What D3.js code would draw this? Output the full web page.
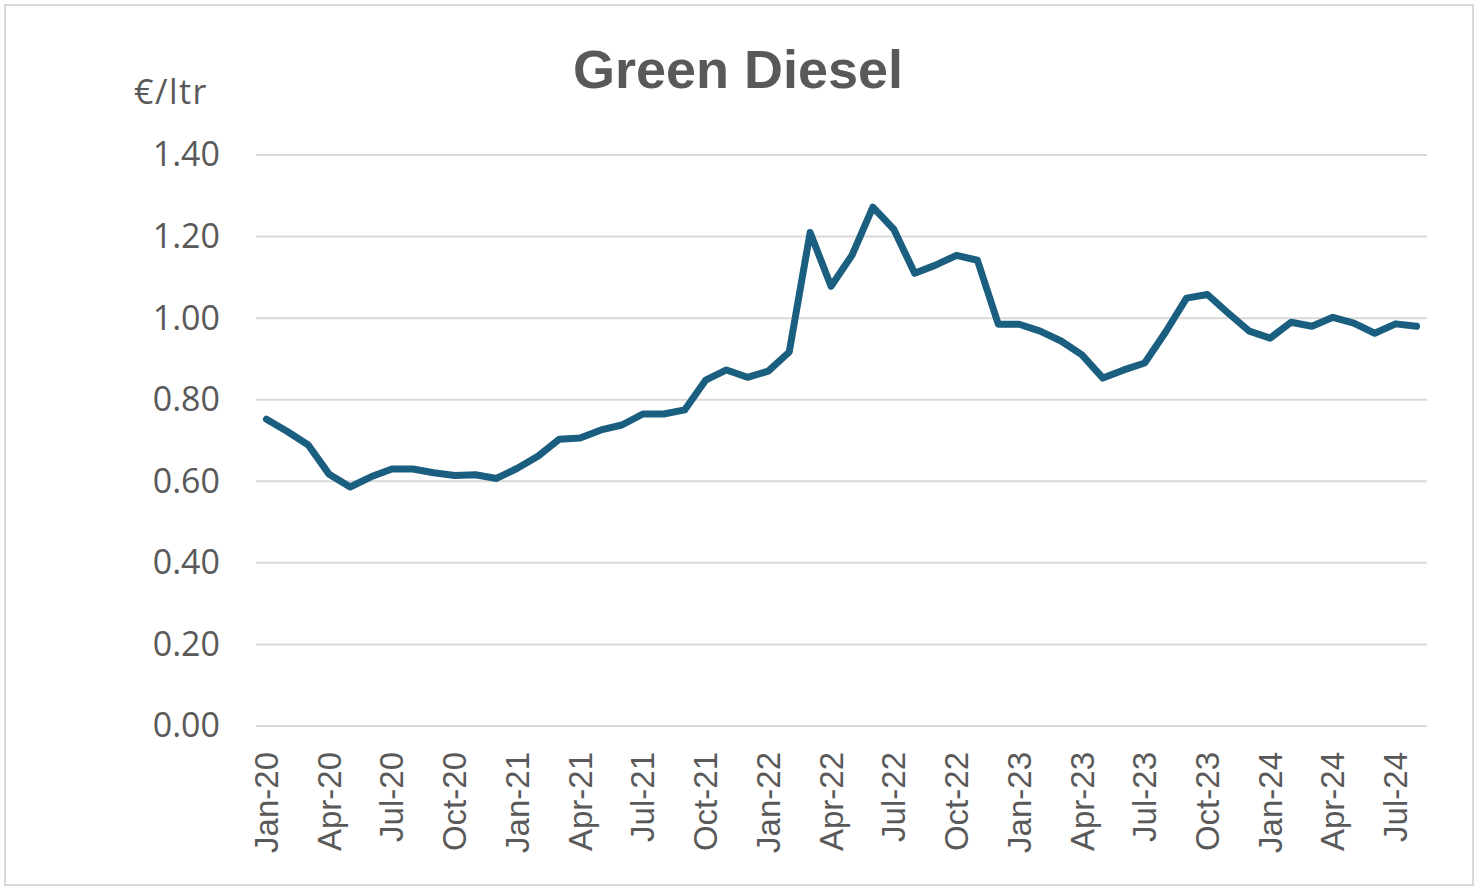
<!DOCTYPE html>
<html><head><meta charset="utf-8">
<script src="https://cdn.jsdelivr.net/npm/d3@7"></script>
<style>
html,body{margin:0;padding:0;background:#fff;}
svg{display:block;}
</style></head>
<body>
<svg id="chart" width="1480" height="893"></svg>
<script>
const title = "Green Diesel";
const unitLabel = "€/ltr";
const months = ["Jan-20","Feb-20","Mar-20","Apr-20","May-20","Jun-20","Jul-20","Aug-20","Sep-20","Oct-20","Nov-20","Dec-20",
"Jan-21","Feb-21","Mar-21","Apr-21","May-21","Jun-21","Jul-21","Aug-21","Sep-21","Oct-21","Nov-21","Dec-21",
"Jan-22","Feb-22","Mar-22","Apr-22","May-22","Jun-22","Jul-22","Aug-22","Sep-22","Oct-22","Nov-22","Dec-22",
"Jan-23","Feb-23","Mar-23","Apr-23","May-23","Jun-23","Jul-23","Aug-23","Sep-23","Oct-23","Nov-23","Dec-23",
"Jan-24","Feb-24","Mar-24","Apr-24","May-24","Jun-24","Jul-24","Aug-24"];
const prices = [0.752,0.722,0.689,0.617,0.586,0.611,0.630,0.630,0.621,0.614,0.616,0.607,
0.632,0.662,0.703,0.706,0.726,0.738,0.765,0.765,0.775,0.848,0.873,0.855,
0.870,0.917,1.210,1.078,1.154,1.272,1.218,1.110,1.130,1.154,1.142,0.985,
0.985,0.968,0.944,0.910,0.853,0.873,0.890,0.966,1.049,1.058,1.012,0.968,
0.951,0.990,0.980,1.002,0.988,0.963,0.986,0.980];
const yTicks = [0,0.2,0.4,0.6,0.8,1.0,1.2,1.4];
const xTickLabels = months.filter((m,i)=>i%3===0);

const svg = d3.select("#chart");
const grey = "#595959";

// chart border
svg.append("rect").attr("x",5).attr("y",5).attr("width",1468).attr("height",880)
  .attr("fill","#fff").attr("stroke","#d9d9d9").attr("stroke-width",2);

const x = d3.scaleBand().domain(months).range([256,1427]);
const y = d3.scaleLinear().domain([0,1.4]).range([726,155]);

// gridlines
svg.append("g").selectAll("line").data(yTicks).join("line")
  .attr("x1",256).attr("x2",1427)
  .attr("y1",d=>y(d)).attr("y2",d=>y(d))
  .attr("stroke","#d9d9d9").attr("stroke-width",2);

// y axis labels
const yAxis = d3.axisLeft(y).tickValues(yTicks).tickFormat(d3.format(".2f")).tickSize(0).tickPadding(0);
const gy = svg.append("g").attr("transform","translate(220,0)").call(yAxis);
gy.select(".domain").remove();
gy.selectAll("text").attr("font-family","'Open Sans', 'Liberation Sans', sans-serif")
  .attr("font-size",34).attr("fill",grey).attr("dy","0.32em");

// x axis labels
const xAxis = d3.axisBottom(x).tickValues(xTickLabels).tickSize(0).tickPadding(0);
const gx = svg.append("g").attr("transform","translate(0,726)").call(xAxis);
gx.select(".domain").remove();
gx.selectAll("text").attr("font-family","'Liberation Sans', Arial, sans-serif")
  .attr("font-size",33).attr("fill",grey)
  .attr("text-anchor","end").attr("dy","0.35em")
  .attr("transform","translate(0,26) rotate(-90)").attr("x",0).attr("y",0);

// line
const line = d3.line().x((d,i)=>x(months[i])+x.bandwidth()/2).y(d=>y(d));
svg.append("path").datum(prices).attr("d",line)
  .attr("fill","none").attr("stroke","#1a5e80").attr("stroke-width",7)
  .attr("stroke-linejoin","round").attr("stroke-linecap","round");

// title
svg.append("text").attr("x",738).attr("y",88).attr("text-anchor","middle")
  .attr("font-family","'Liberation Sans', Arial, sans-serif").attr("font-weight","bold")
  .attr("font-size",54).attr("fill",grey).text(title);

// unit
svg.append("text").attr("x",134).attr("y",104)
  .attr("font-family","'Open Sans', 'Liberation Sans', sans-serif")
  .attr("font-size",34).attr("letter-spacing",1.5).attr("fill",grey).text(unitLabel);
</script>
</body></html>
